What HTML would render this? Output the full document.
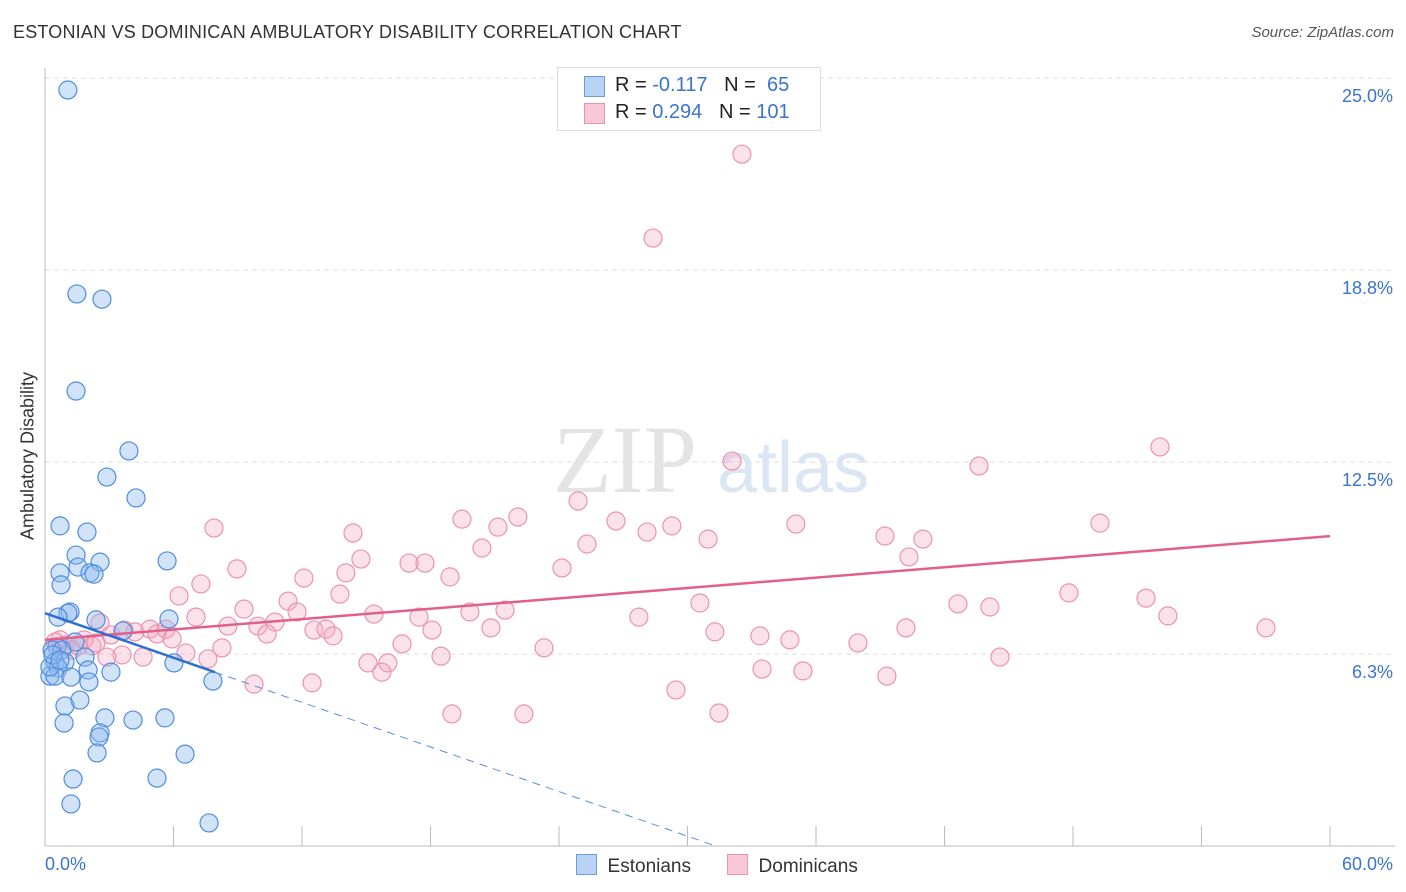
<!DOCTYPE html>
<html><head><meta charset="utf-8"><style>
body{margin:0;background:#fff;font-family:"Liberation Sans",sans-serif;}
#wrap{position:relative;width:1406px;height:892px;overflow:hidden;}
.t{position:absolute;white-space:nowrap;}
</style></head><body>
<div id="wrap">
<div class="t" style="left:13px;top:22px;font-size:18px;color:#333;letter-spacing:0.2px">ESTONIAN VS DOMINICAN AMBULATORY DISABILITY CORRELATION CHART</div>
<div class="t" style="right:12px;top:24px;font-size:15px;color:#555;font-style:italic">Source: ZipAtlas.com</div>
<div class="t" style="left:28px;top:456px;font-size:18px;color:#333;transform:translate(-50%,-50%) rotate(-90deg)">Ambulatory Disability</div>
<svg id="svg" width="1406" height="892" style="position:absolute;left:0;top:0"></svg>
</div>
<script>
const xTicksLabels=["0.0%","60.0%"];
const yTickValues=[6.25,12.5,18.75,25];
const yTickLabels=["6.3%","12.5%","18.8%","25.0%"];
const blueX=[1.07,1.49,2.66,1.45,3.92,2.89,4.25,0.70,1.96,1.45,2.57,5.70,1.54,0.70,2.10,2.29,0.75,1.17,1.07,0.61,2.38,5.79,3.64,1.40,0.56,0.33,0.79,1.87,0.47,0.93,6.02,0.61,2.01,3.08,0.23,0.47,1.21,2.05,7.84,1.63,0.93,2.80,4.11,5.60,0.89,2.57,2.52,2.43,6.54,1.31,5.23,1.21,7.66,0.23,0.37,0.70];
const blueY=[24.61,17.97,17.80,14.81,12.86,12.01,11.33,10.42,10.22,9.47,9.24,9.28,9.08,8.89,8.89,8.85,8.50,7.62,7.58,7.45,7.36,7.39,7.00,6.64,6.48,6.38,6.38,6.15,5.99,5.99,5.96,5.79,5.73,5.66,5.53,5.53,5.50,5.34,5.37,4.75,4.56,4.17,4.10,4.17,4.00,3.68,3.55,3.03,2.99,2.18,2.21,1.37,0.75,5.83,6.22,6.05];
const pinkX=[32.54,28.39,52.06,32.08,43.61,24.89,19.47,22.08,26.66,49.26,35.06,29.27,21.15,7.89,28.11,14.38,39.22,30.96,40.99,25.31,20.40,14.75,40.34,8.96,17.00,17.74,24.14,14.05,12.09,18.91,7.28,6.26,13.77,47.81,51.41,30.58,11.35,42.63,44.12,9.29,21.48,19.84,15.36,11.77,27.73,17.46,7.05,52.43,8.54,10.74,9.94,12.56,13.12,2.57,4.20,4.90,5.23,5.65,18.07,20.82,31.28,40.20,57.01,10.37,13.45,5.93,3.08,3.69,33.38,34.78,37.96,16.67,23.30,8.26,2.19,1.82,0.70,1.26,6.58,3.60,2.89,4.58,7.61,18.49,44.59,15.08,16.01,15.73,33.48,35.39,39.31,9.76,12.47,29.46,19.00,22.36,31.47,0.47,0.93,1.54,2.38];
const pinkY=[22.52,19.79,12.99,12.53,12.37,11.23,10.64,10.71,10.58,10.51,10.48,10.42,10.38,10.35,10.22,10.19,10.09,9.99,9.99,9.83,9.70,9.34,9.41,9.02,9.21,9.21,9.05,8.89,8.72,8.76,8.53,8.14,8.20,8.24,8.07,7.91,7.97,7.88,7.78,7.71,7.68,7.62,7.55,7.62,7.45,7.45,7.45,7.49,7.16,7.29,7.16,7.03,7.06,7.26,6.97,7.06,6.90,7.06,7.03,7.10,6.97,7.10,7.10,6.90,6.84,6.74,6.87,7.03,6.84,6.71,6.61,6.58,6.45,6.45,6.51,6.71,6.71,6.38,6.28,6.22,6.15,6.15,6.09,6.18,6.15,5.96,5.96,5.66,5.76,5.70,5.53,5.27,5.31,5.08,4.30,4.30,4.33,6.64,6.54,6.51,6.61];
const blueTrend=[7.58,-0.242];
const pinkTrend=[6.71,0.0563];
const X0=45,X1=1330,Y0=846,YS=192/6.25;
const sx=v=>X0+(X1-X0)*v/60, sy=v=>Y0-v*YS;
const svg=document.getElementById('svg');const NS='http://www.w3.org/2000/svg';
function mk(tag,a,name){const e=document.createElementNS(NS,tag);for(const k in a)e.setAttribute(k,a[k]);


svg.appendChild(e);return e;}
// gridlines
yTickValues.forEach((v,i)=>{mk('line',{x1:X0,x2:1395,y1:sy(v),y2:sy(v),stroke:'#ddd','stroke-dasharray':'5,4'},'y-gridline');
const t=mk('text',{x:1393,y:sy(v)+24,'text-anchor':'end','font-size':18,fill:'#3a74d0','font-family':'Liberation Sans'},'y-tick-label');t.textContent=yTickLabels[i];});
mk('line',{x1:X0,x2:1395,y1:78,y2:78,stroke:'#ddd','stroke-dasharray':'5,4'},'top-gridline');
mk('line',{x1:X0,x2:X0,y1:68,y2:846,stroke:'#bbb'},'y-axis-line');
mk('line',{x1:X0,x2:1395,y1:846,y2:846,stroke:'#bbb'},'x-axis-line');
for(let i=0;i<=10;i++){mk('line',{x1:sx(i*6),x2:sx(i*6),y1:826,y2:846,stroke:'#bbb'},'x-tick');}
let t=mk('text',{x:45,y:870,'font-size':18,fill:'#3a74d0','font-family':'Liberation Sans'},'x-tick-label');t.textContent=xTicksLabels[0];
t=mk('text',{x:1393,y:870,'text-anchor':'end','font-size':18,fill:'#3a74d0','font-family':'Liberation Sans'},'x-tick-label');t.textContent=xTicksLabels[1];
// watermark
t=mk('text',{x:553,y:492,'font-size':96,fill:'#e4e4e4','font-family':'Liberation Serif'},'watermark-zip');t.textContent='ZIP';
t=mk('text',{x:717,y:492,'font-size':72,fill:'#dbe6f5','font-family':'Liberation Sans'},'watermark-atlas');t.textContent='atlas';
pinkX.forEach((x,i)=>mk('circle',{cx:sx(x),cy:sy(pinkY[i]),r:9,fill:'rgba(244,170,195,0.35)',stroke:'#eb93b0','stroke-width':1.2},'dominican-point'));
blueX.forEach((x,i)=>mk('circle',{cx:sx(x),cy:sy(blueY[i]),r:9,fill:'rgba(140,185,240,0.4)',stroke:'#4f8ddc','stroke-width':1.2},'estonian-point'));
mk('line',{x1:sx(0),y1:sy(pinkTrend[0]),x2:sx(60),y2:sy(pinkTrend[0]+pinkTrend[1]*60),stroke:'#e0608a','stroke-width':2.5},'dominican-trend-line');
mk('line',{x1:sx(0),y1:sy(blueTrend[0]),x2:sx(7.94),y2:sy(blueTrend[0]+blueTrend[1]*7.94),stroke:'#2f6fd0','stroke-width':2.5},'estonian-trend-line');
const xe=-blueTrend[0]/blueTrend[1];
mk('line',{x1:sx(7.94),y1:sy(blueTrend[0]+blueTrend[1]*7.94),x2:sx(xe),y2:sy(0),stroke:'#5a8fdc','stroke-width':1,'stroke-dasharray':'8,6'},'estonian-trend-extension');
</script>
<div style="position:absolute;left:557px;top:67px;width:262px;height:62px;border:1px solid #ddd;background:#fff;font-size:20px;color:#222">
<div style="position:absolute;left:26px;top:8px;width:19px;height:19px;background:#b9d3f5;border:1px solid #6a9de0"></div>
<div class="t" style="left:57px;top:6px">R = <span style="color:#3a74d0">-0.117</span>&nbsp;&nbsp;&nbsp;N = &nbsp;<span style="color:#3a74d0">65</span></div>
<div style="position:absolute;left:26px;top:35px;width:19px;height:19px;background:#f8c8d6;border:1px solid #eb93b0"></div>
<div class="t" style="left:57px;top:33px">R = <span style="color:#3a74d0">0.294</span>&nbsp;&nbsp;&nbsp;N = <span style="color:#3a74d0">101</span></div>
</div>
<div style="position:absolute;left:576px;top:854px;font-size:19px;color:#333">
<span style="display:inline-block;width:19px;height:19px;background:#b9d3f5;border:1px solid #6a9de0;vertical-align:-3px"></span>&nbsp; Estonians</div>
<div style="position:absolute;left:727px;top:854px;font-size:19px;color:#333">
<span style="display:inline-block;width:19px;height:19px;background:#f8c8d6;border:1px solid #eb93b0;vertical-align:-3px"></span>&nbsp; Dominicans</div>
</body></html>
